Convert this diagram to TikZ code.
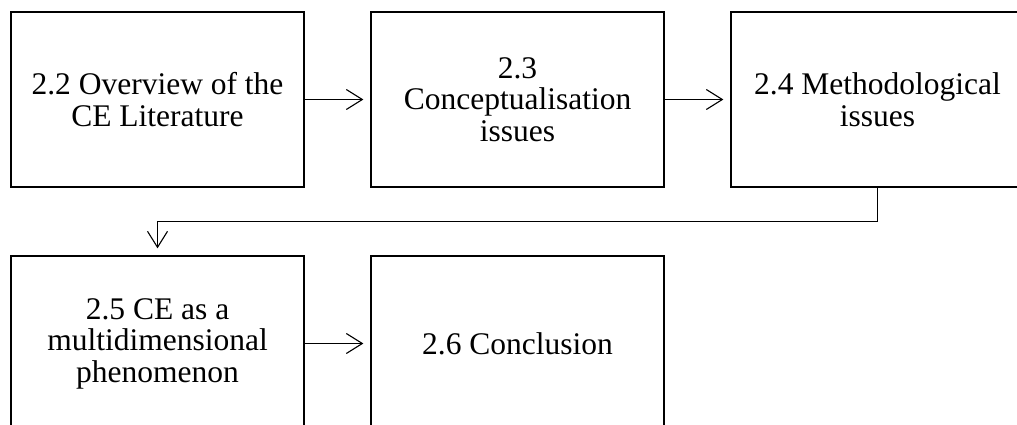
\documentclass[tikz,border=0pt]{standalone}
\usepackage{fontspec}
\setmainfont{Liberation Serif}
\usetikzlibrary{arrows.meta}
\begin{document}
\begin{tikzpicture}[x=1pt,y=1pt,
  section/.style={draw, line width=1.3pt, minimum width=293pt, minimum height=175pt,
    align=center, inner sep=0pt,
    font=\fontsize{31.5}{31.5}\selectfont},
  flow/.style={line width=1.1pt, shorten >=7pt,
    -{Straight Barb[length=16pt, width=20pt, line width=1.1pt]}}]
  \useasboundingbox (0,0) rectangle (1017,-425);
  \clip (0,0) rectangle (1017,-425);
  % first row
  \node[section] (s22) at (157.5,-99.5) {2.2 Overview of the\\CE Literature};
  \node[section] (s23) at (517.5,-99.5) {2.3\\Conceptualisation\\issues};
  \node[section] (s24) at (877.5,-99.5) {2.4 Methodological\\issues};
  % second row
  \node[section] (s25) at (157.5,-343.5) {2.5 CE as a\\multidimensional\\phenomenon};
  \node[section] (s26) at (517.5,-343.5) {2.6 Conclusion};
  % connectors
  \draw[flow] (s22) -- (s23);
  \draw[flow] (s23) -- (s24);
  \draw[flow] (s24.south) -- ++(0,-34) -| (s25.north);
  \draw[flow] (s25) -- (s26);
\end{tikzpicture}
\end{document}
